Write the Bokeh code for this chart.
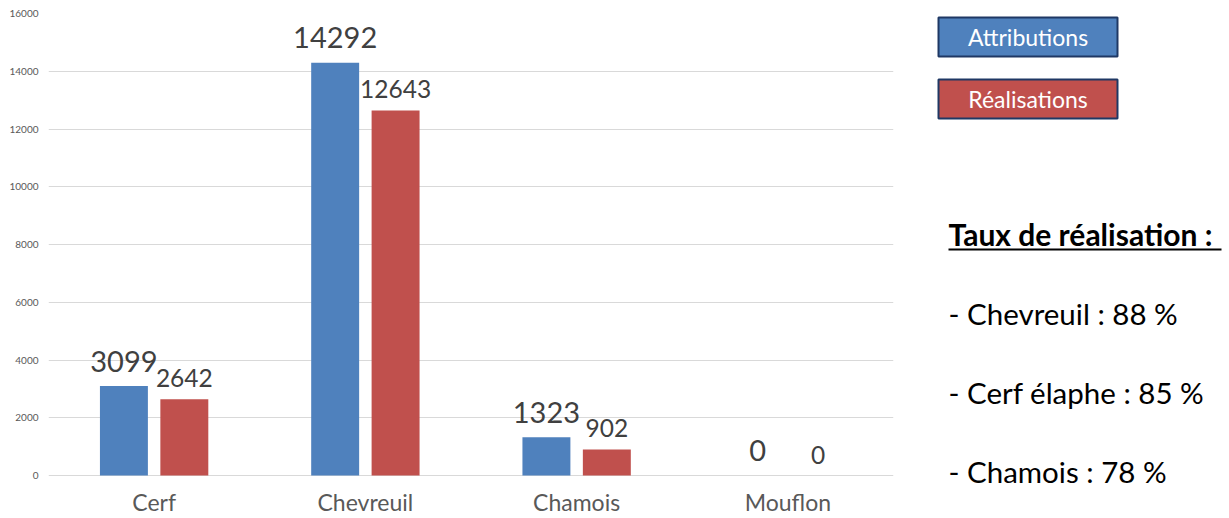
from bokeh.plotting import figure
from bokeh.models import ColumnDataSource, FactorRange, Range1d, SingleIntervalTicker
from bokeh.transform import dodge
from bokeh.layouts import row
from bokeh.core.properties import value
from bokeh.embed import file_html
from bokeh.resources import INLINE

categories = ["Cerf", "Chevreuil", "Chamois", "Mouflon"]
attributions = [3099, 14292, 1323, 0]
realisations = [2642, 12643, 902, 0]
series_names = ["Attributions", "Réalisations"]
series_colors = ["#4f81bd", "#c0504d"]
rate_title = "Taux de réalisation :"
rate_species = ["Chevreuil", "Cerf élaphe", "Chamois"]
rate_values = [88, 85, 78]

FONT = "Lato"
H = 518
W1 = 908
W2 = 321
TOP = 13
BOTTOM = 35
FRAME_BOTTOM = H - BOTTOM          # 483
ZERO_PX = 475                      # pixel row of value 0
Y_MAX = 16000
per_px = Y_MAX / (ZERO_PX - TOP)
y_start = -(FRAME_BOTTOM - ZERO_PX) * per_px

src = ColumnDataSource(dict(
    cat=categories,
    att=attributions,
    rea=realisations,
    att_txt=[str(v) for v in attributions],
    rea_txt=[str(v) for v in realisations],
))

p = figure(x_range=FactorRange(*categories), y_range=Range1d(y_start, Y_MAX),
           width=W1, height=H, toolbar_location=None, output_backend="svg",
           min_border_left=48, min_border_right=15, min_border_top=TOP, min_border_bottom=BOTTOM)
p.outline_line_color = None
p.background_fill_color = "white"

off = 0.143
bw = 0.227
p.vbar(x=dodge("cat", -off, range=p.x_range), top="att", bottom=0, width=bw, source=src,
       fill_color=series_colors[0], line_color=None)
p.vbar(x=dodge("cat", off, range=p.x_range), top="rea", bottom=0, width=bw, source=src,
       fill_color=series_colors[1], line_color=None)

p.text(x=dodge("cat", -off, range=p.x_range), y="att", text="att_txt", source=src,
       text_align="center", text_baseline="middle", y_offset=-25,
       text_font=value(FONT), text_font_size="29px", text_color="#404040")
p.text(x=dodge("cat", off, range=p.x_range), y="rea", text="rea_txt", source=src,
       text_align="center", text_baseline="middle", y_offset=-21,
       text_font=value(FONT), text_font_size="24.5px", text_color="#404040")

p.xgrid.visible = False
p.ygrid.grid_line_color = "#d9d9d9"
p.ygrid.grid_line_width = 1
p.yaxis.ticker = SingleIntervalTicker(interval=2000)
for ax in (p.xaxis, p.yaxis):
    ax.axis_line_color = None
    ax.major_tick_line_color = None
    ax.minor_tick_line_color = None
    ax.major_tick_out = 0
    ax.minor_tick_out = 0
    ax.major_label_text_color = "#595959"
    ax.major_label_text_font = FONT
p.yaxis.major_label_text_font_size = "10px"
p.yaxis.major_label_standoff = 10
p.xaxis.major_label_text_font_size = "23px"
p.xaxis.major_label_standoff = 4

# right panel: frame spans the same rows as the chart frame; data y == page pixel row
p2 = figure(x_range=Range1d(0, W2), y_range=Range1d(FRAME_BOTTOM, TOP), width=W2, height=H,
            toolbar_location=None, output_backend="svg",
            min_border_left=0, min_border_right=0, min_border_top=TOP, min_border_bottom=BOTTOM,
            x_axis_location=None, y_axis_location=None)
p2.outline_line_color = None
p2.xgrid.visible = False
p2.ygrid.visible = False

leg = ColumnDataSource(dict(x=[119.5, 119.5], y=[36.5, 98.5], name=series_names, color=series_colors))
p2.rect(x="x", y="y", width=179, height=39, source=leg, fill_color="color",
        line_color="#1f3864", line_width=2)
p2.text(x="x", y="y", text="name", source=leg, text_align="center", text_baseline="middle",
        text_font=value(FONT), text_font_size="23px", text_color="white")

p2.text(x=[40], y=[233], text=[rate_title], text_align="left", text_baseline="middle",
        text_font=value(FONT), text_font_size="30px", text_font_style="bold", text_color="black")
p2.segment(x0=[40], y0=[249], x1=[313], y1=[249], line_color="black", line_width=2)

lines = ["- %s : %d %%" % (s, v) for s, v in zip(rate_species, rate_values)]
p2.text(x=[40, 40, 40], y=[313, 392, 471], text=lines, text_align="left", text_baseline="middle",
        text_font=value(FONT), text_font_size="29.5px", text_color="black")

layout = row(p, p2)
open("out.html", "w").write(file_html(layout, INLINE))
